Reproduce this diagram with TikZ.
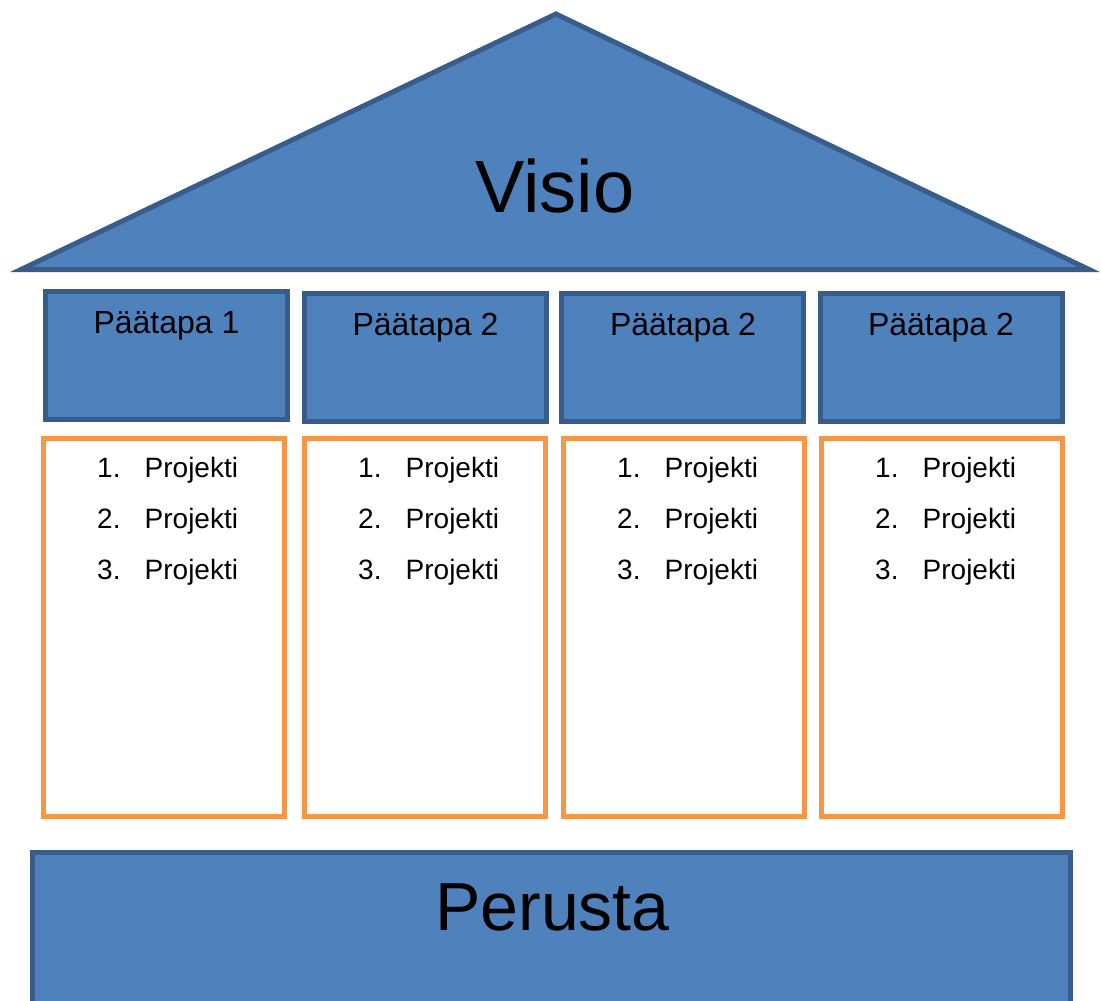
\documentclass[tikz,border=0pt]{standalone}
\usepackage{fontspec}
\setmainfont{Liberation Sans}
\definecolor{roofblue}{HTML}{4F81BD}
\definecolor{edgeblue}{HTML}{385D8A}
\definecolor{listorange}{HTML}{F79646}
\tikzset{
  bluebox/.style={draw=edgeblue, fill=roofblue, line width=5pt, inner sep=0pt, outer sep=0pt,
    minimum width=242pt, minimum height=128pt},
  listbox/.style={draw=listorange, fill=white, line width=5pt, inner sep=0pt, outer sep=0pt,
    minimum width=241pt, minimum height=378pt},
  phase/.style={anchor=base, inner sep=0pt, font=\fontsize{32}{32}\selectfont},
  itemnum/.style={anchor=base west, inner sep=0pt, font=\fontsize{28}{28}\selectfont},
  itemtext/.style={anchor=base west, inner sep=0pt, font=\fontsize{28}{28}\selectfont},
}
\begin{document}
\begin{tikzpicture}[x=1pt, y=-1pt]
\useasboundingbox (0,0) rectangle (1101,1001);
\clip (0,0) rectangle (1101,1001);

% roof
\coordinate (rl) at (21,269.5);
\coordinate (rt) at (556,14);
\coordinate (rr) at (1089,269.5);
\draw[edgeblue, fill=roofblue, line width=5pt, line join=miter] (rl) -- (rt) -- (rr) -- cycle;
\node[anchor=base, inner sep=0pt, font=\fontsize{74}{74}\selectfont] (visio) at (555,212) {Visio};

% phase boxes
\node[bluebox] (p1) at (166.5,355) {};
\node[bluebox] (p2) at (425.5,357.5) {};
\node[bluebox] (p3) at (682.5,357.5) {};
\node[bluebox] (p4) at (941,357.5) {};
\node[phase] (t1) at (166.5,333) {Päätapa 1};
\node[phase] (t2) at (425.5,335) {Päätapa 2};
\node[phase] (t3) at (683,335) {Päätapa 2};
\node[phase] (t4) at (941,335) {Päätapa 2};

% project lists
\foreach \i/\cx/\lx in {1/164/41, 2/425/302, 3/684/561, 4/942/819}{
  \node[listbox] (o\i) at (\cx,627.5) {};
  \foreach \k/\by in {1/477, 2/528, 3/579}{
    \node[itemnum] (n\i\k) at (\lx+56,\by) {\k.};
    \node[itemtext] (j\i\k) at (\lx+103.5,\by) {Projekti};
  }
}

% foundation
\node[draw=edgeblue, fill=roofblue, line width=5pt, inner sep=0pt, outer sep=0pt,
  minimum width=1038pt, minimum height=167.5pt] (base) at (551.5,936.25) {};
\node[anchor=base, inner sep=0pt, font=\fontsize{68}{68}\selectfont] (perusta) at (552.5,930) {Perusta};
\end{tikzpicture}
\end{document}
